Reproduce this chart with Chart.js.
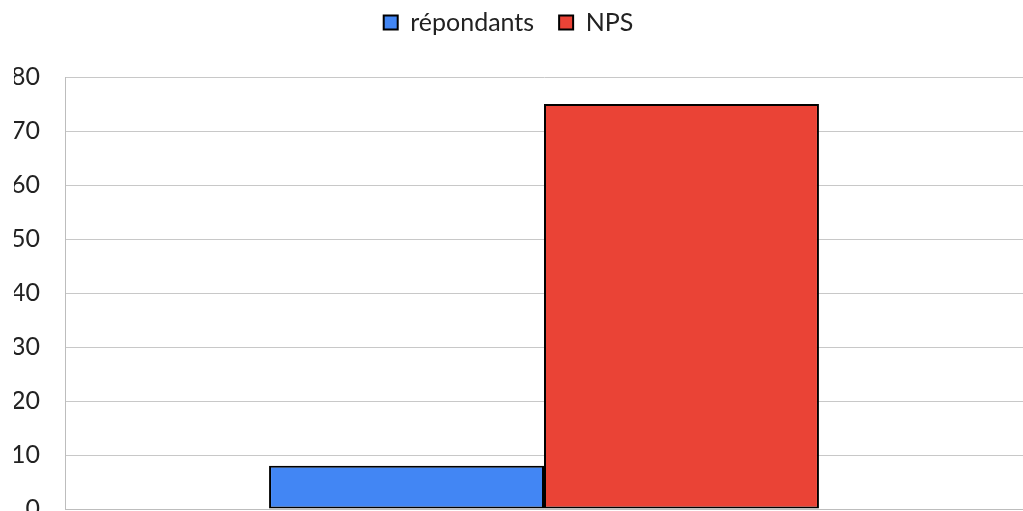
<!DOCTYPE html>
<html>
<head>
<meta charset="utf-8">
<script src="https://cdn.jsdelivr.net/npm/chart.js@4/dist/chart.umd.min.js"></script>
<style>
  html, body { margin: 0; padding: 0; background: #fff; overflow: hidden; }
  #wrap { position: absolute; left: 0; top: 0; width: 1023px; height: 549px; }
</style>
</head>
<body>
<div id="wrap"><canvas id="chart" width="1023" height="549"></canvas></div>
<script>
var labels = [''];
var repondants = [8];
var nps = [75];
var yTicks = [0, 10, 20, 30, 40, 50, 60, 70, 80];

// leave more room under the legend, and nudge it left like the original
var legendGap = {
    id: 'legendGap',
    beforeInit: function (chart) {
        var fit = chart.legend.fit;
        chart.legend.fit = function () {
            fit.bind(chart.legend)();
            this.height += 32;
        };
    },
    afterLayout: function (chart) {
        chart.legend.left -= 10;
        chart.legend.right -= 10;
    }
};

var ctx = document.getElementById('chart').getContext('2d');
var myChart = new Chart(ctx, {
    type: 'bar',
    data: {
        labels: labels,
        datasets: [{
            label: 'répondants',
            data: repondants,
            backgroundColor: '#4286f4',
            borderColor: '#000000',
            borderWidth: 2,
            borderSkipped: false
        }, {
            label: 'NPS',
            data: nps,
            backgroundColor: '#ea4336',
            borderColor: '#000000',
            borderWidth: 2,
            borderSkipped: false
        }]
    },
    plugins: [legendGap],
    options: {
        responsive: false,
        animation: false,
        categoryPercentage: 0.574,
        barPercentage: 1,
        layout: { padding: { left: 14, right: 0, top: -15, bottom: 22 } },
        plugins: {
            tooltip: { enabled: false },
            legend: {
                position: 'top',
                labels: {
                    font: { family: 'Lato', size: 25 },
                    color: '#222',
                    boxWidth: 14,
                    boxHeight: 14,
                    padding: 25
                }
            }
        },
        scales: {
            x: {
                ticks: { display: false },
                grid: { display: false, drawTicks: false },
                border: { display: true, color: '#bdbdbd', width: 1 },
                afterFit: function (axis) { axis.height = 0; }
            },
            y: {
                min: 0,
                max: 80,
                afterBuildTicks: function (axis) {
                    axis.ticks = yTicks.map(function (v) { return { value: v }; });
                },
                afterFit: function (axis) { axis.width = 51; },
                ticks: {
                    font: { family: 'Lato', size: 25 },
                    color: '#222',
                    padding: 25
                },
                grid: { color: '#c8c8c8', drawTicks: false },
                border: { display: true, color: '#bdbdbd', width: 1 }
            }
        }
    }
});
</script>
</body>
</html>
